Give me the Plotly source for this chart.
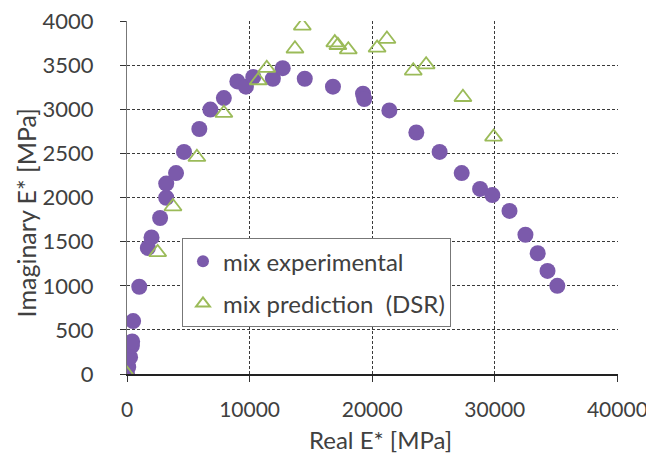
import plotly.graph_objects as go

# mix experimental (real, imaginary) in MPa
exp_real = [0, 100, 250, 400, 420, 500, 1000, 1700, 2000, 2700, 3200, 3200, 4000,
            4650, 5900, 6800, 7900, 9000, 9700, 10300, 11900, 12700, 14500,
            16800, 19250, 19350, 21400, 23600, 25500, 27300, 28800, 29800,
            31200, 32500, 33500, 34300, 35100]
exp_imag = [0, 80, 190, 320, 370, 600, 990, 1430, 1550, 1770, 2000, 2160, 2280,
            2520, 2780, 3000, 3130, 3320, 3260, 3370, 3350, 3470, 3350,
            3260, 3180, 3120, 2990, 2740, 2520, 2280, 2100, 2030,
            1850, 1580, 1370, 1170, 1000]

# mix prediction (DSR)
dsr_real = [0, 2500, 3750, 5700, 7900, 10700, 11400, 13700, 14300,
            16950, 17200, 18050, 20400, 21200, 23350, 24400, 27400, 29900]
dsr_imag = [0, 1380, 1900, 2460, 2960, 3330, 3470, 3690, 3950,
            3760, 3730, 3680, 3700, 3800, 3440, 3510, 3140, 2690]

FONT = "Lato, 'Open Sans', sans-serif"
GREY = "#404040"

fig = go.Figure()
fig.add_trace(go.Scatter(
    x=exp_real, y=exp_imag, mode="markers", name="mix experimental",
    legendgroup="exp",
    marker=dict(symbol="circle", size=16, color="#7B5AAB"),
))
fig.add_trace(go.Scatter(
    x=dsr_real, y=dsr_imag, mode="markers", name="mix prediction  (DSR)",
    legendgroup="dsr",
    marker=dict(symbol="triangle-up-open", size=15, color="#9BBB59",
                line=dict(width=1.8)),
))

axis_common = dict(
    showgrid=True, gridcolor="#3a3a3a", griddash="3px,2px", gridwidth=1,
    ticks="outside", ticklen=6, tickcolor="#333333",
    ticklabeloverflow="allow",
    zeroline=False, showline=True, automargin=False,
)

fig.update_xaxes(
    # a hair past 40000 so the dashed gridline at the right edge is drawn
    range=[0, 40050], tickvals=[0, 10000, 20000, 30000, 40000], tickformat="d",
    tickfont=dict(family=FONT, size=21, color=GREY),
    ticklabelstandoff=10, linecolor="#222222", linewidth=1.5,
    **axis_common,
)
fig.update_yaxes(
    range=[0, 4005], tickvals=list(range(0, 4001, 500)), tickformat="d",
    tickfont=dict(family=FONT, size=22, color=GREY),
    ticklabelstandoff=22, linecolor="#777777", linewidth=1.2,
    **axis_common,
)

# axis titles as annotations so they sit where the original has them
fig.add_annotation(text="Real E* [MPa]", xref="paper", yref="paper",
                   x=0.517, y=-0.185, xanchor="center", yanchor="middle",
                   showarrow=False,
                   font=dict(family=FONT, size=24, color=GREY))
fig.add_annotation(text="Imaginary E* [MPa]", xref="paper", yref="paper",
                   x=-0.205, y=0.456, xanchor="center", yanchor="middle",
                   showarrow=False, textangle=-90,
                   font=dict(family=FONT, size=25, color=GREY))

# the page body has an 8px margin, so the figure is 8px smaller than the window
fig.update_layout(
    width=646, height=448,
    margin=dict(l=119, r=36, t=13, b=82),
    plot_bgcolor="white", paper_bgcolor="white",
    font=dict(family=FONT, color=GREY),
    legend=dict(
        x=0.112, y=0.385, xanchor="left", yanchor="top",
        bgcolor="white", bordercolor="#777777", borderwidth=1,
        font=dict(family=FONT, size=24, color=GREY),
        itemsizing="constant", tracegroupgap=8,
    ),
    showlegend=True,
)

fig.write_html("out.html")
